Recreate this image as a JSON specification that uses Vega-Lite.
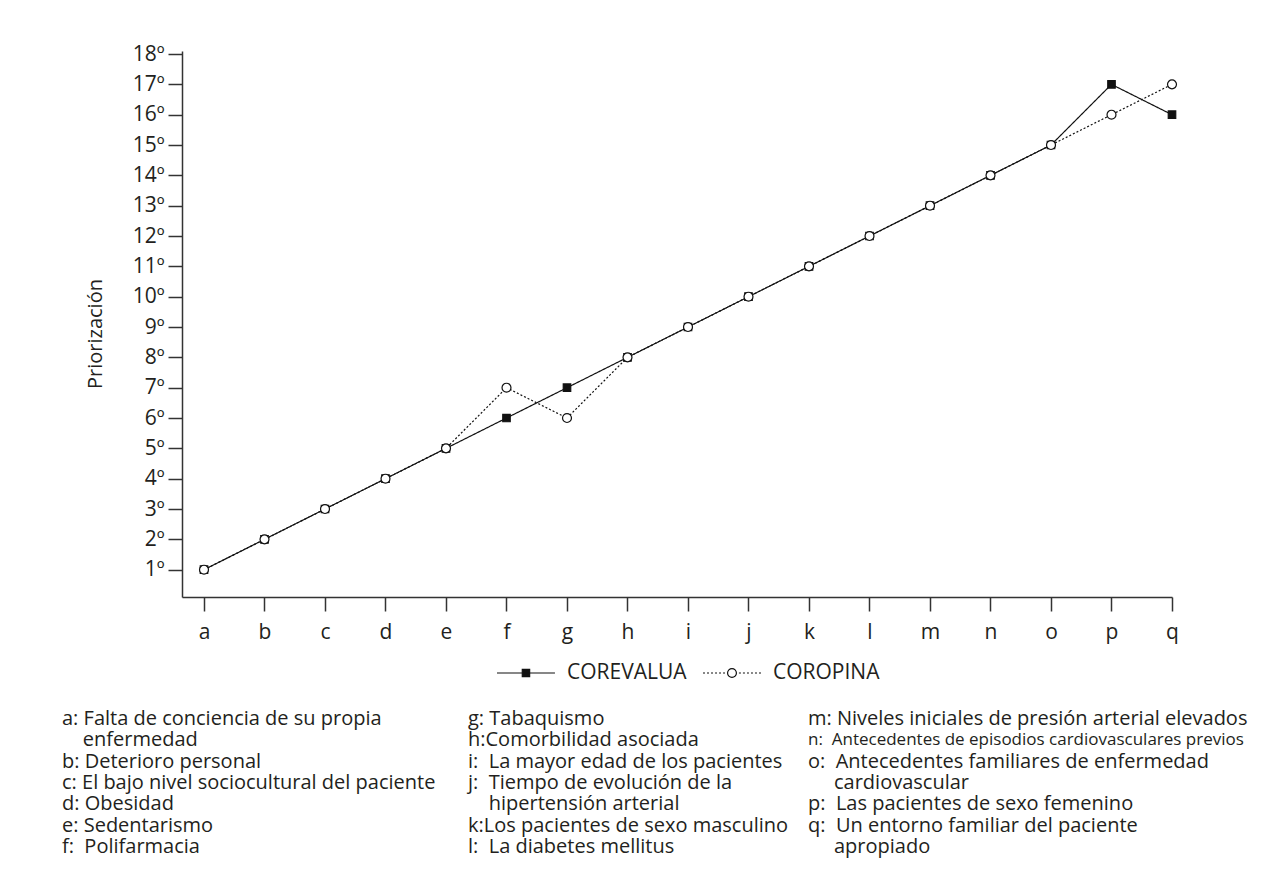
{
  "$schema": "https://vega.github.io/schema/vega-lite/v6.json",
  "padding": {"left": 62, "top": 43, "right": 0, "bottom": 0},
  "background": "white",
  "config": {
    "font": "Open Sans",
    "view": {"stroke": null},
    "axis": {"labelFont": "Open Sans", "titleFont": "Open Sans", "labelColor": "#231f20", "titleColor": "#231f20", "domainColor": "#333333", "tickColor": "#333333", "grid": false, "domainWidth": 1.5, "tickWidth": 1.5},
    "text": {"font": "Open Sans", "color": "#231f20"}
  },
  "resolve": {"scale": {"shape": "independent", "fill": "independent", "size": "independent", "strokeDash": "independent", "x": "independent", "y": "independent"}},
  "datasets": {
    "ranks": [
      {"item": "a", "series": "COREVALUA", "rank": 1},
      {"item": "b", "series": "COREVALUA", "rank": 2},
      {"item": "c", "series": "COREVALUA", "rank": 3},
      {"item": "d", "series": "COREVALUA", "rank": 4},
      {"item": "e", "series": "COREVALUA", "rank": 5},
      {"item": "f", "series": "COREVALUA", "rank": 6},
      {"item": "g", "series": "COREVALUA", "rank": 7},
      {"item": "h", "series": "COREVALUA", "rank": 8},
      {"item": "i", "series": "COREVALUA", "rank": 9},
      {"item": "j", "series": "COREVALUA", "rank": 10},
      {"item": "k", "series": "COREVALUA", "rank": 11},
      {"item": "l", "series": "COREVALUA", "rank": 12},
      {"item": "m", "series": "COREVALUA", "rank": 13},
      {"item": "n", "series": "COREVALUA", "rank": 14},
      {"item": "o", "series": "COREVALUA", "rank": 15},
      {"item": "p", "series": "COREVALUA", "rank": 17},
      {"item": "q", "series": "COREVALUA", "rank": 16},
      {"item": "a", "series": "COROPINA", "rank": 1},
      {"item": "b", "series": "COROPINA", "rank": 2},
      {"item": "c", "series": "COROPINA", "rank": 3},
      {"item": "d", "series": "COROPINA", "rank": 4},
      {"item": "e", "series": "COROPINA", "rank": 5},
      {"item": "f", "series": "COROPINA", "rank": 7},
      {"item": "g", "series": "COROPINA", "rank": 6},
      {"item": "h", "series": "COROPINA", "rank": 8},
      {"item": "i", "series": "COROPINA", "rank": 9},
      {"item": "j", "series": "COROPINA", "rank": 10},
      {"item": "k", "series": "COROPINA", "rank": 11},
      {"item": "l", "series": "COROPINA", "rank": 12},
      {"item": "m", "series": "COROPINA", "rank": 13},
      {"item": "n", "series": "COROPINA", "rank": 14},
      {"item": "o", "series": "COROPINA", "rank": 15},
      {"item": "p", "series": "COROPINA", "rank": 16},
      {"item": "q", "series": "COROPINA", "rank": 17}
    ],
    "legend": [
      {"series": "COREVALUA"},
      {"series": "COROPINA"}
    ],
    "notes": [
      {"col": 1, "line": 0, "text": "a:\u00a0Falta de conciencia de su propia"},
      {"col": 1, "line": 1, "text": "\u200b\u00a0\u00a0\u00a0\u00a0enfermedad"},
      {"col": 1, "line": 2, "text": "b:\u00a0Deterioro personal"},
      {"col": 1, "line": 3, "text": "c:\u00a0El bajo nivel sociocultural del paciente"},
      {"col": 1, "line": 4, "text": "d:\u00a0Obesidad"},
      {"col": 1, "line": 5, "text": "e:\u00a0Sedentarismo"},
      {"col": 1, "line": 6, "text": "f:\u00a0\u00a0Polifarmacia"},
      {"col": 2, "line": 0, "text": "g:\u00a0Tabaquismo"},
      {"col": 2, "line": 1, "text": "h:Comorbilidad asociada"},
      {"col": 2, "line": 2, "text": "i:\u00a0\u00a0La mayor edad de los pacientes"},
      {"col": 2, "line": 3, "text": "j:\u00a0\u00a0Tiempo de evolución de la"},
      {"col": 2, "line": 4, "text": "\u200b\u00a0\u00a0\u00a0\u00a0hipertensión arterial"},
      {"col": 2, "line": 5, "text": "k:Los pacientes de sexo masculino"},
      {"col": 2, "line": 6, "text": "l:\u00a0\u00a0La diabetes mellitus"},
      {"col": 3, "line": 0, "text": "m:\u00a0Niveles iniciales de presión arterial elevados"},
      {"col": 3, "line": 1, "text": "n:\u00a0\u00a0Antecedentes de episodios cardiovasculares previos"},
      {"col": 3, "line": 2, "text": "o:\u00a0\u00a0Antecedentes familiares de enfermedad"},
      {"col": 3, "line": 3, "text": "\u200b\u00a0\u00a0\u00a0\u00a0\u00a0cardiovascular"},
      {"col": 3, "line": 4, "text": "p:\u00a0\u00a0Las pacientes de sexo femenino"},
      {"col": 3, "line": 5, "text": "q:\u00a0\u00a0Un entorno familiar del paciente"},
      {"col": 3, "line": 6, "text": "\u200b\u00a0\u00a0\u00a0\u00a0\u00a0apropiado"}
    ]
  },
  "concat": [
    {
      "hconcat": [
        {
          "width": 68,
          "height": 566,
          "data": {"values": [{"label": "Priorización"}]},
          "mark": {"type": "text", "angle": 270, "align": "center", "baseline": "middle", "fontSize": 20},
          "encoding": {"text": {"field": "label"}}
        },
        {
          "width": 990,
          "height": 546,
          "data": {"name": "ranks"},
          "encoding": {
            "x": {"field": "item", "type": "ordinal", "scale": {"type": "point", "padding": 0.1818, "align": 1}, "axis": {"title": null, "labelAngle": 0, "tickSize": 14, "labelPadding": 10, "labelFontSize": 21}},
            "y": {"field": "rank", "type": "quantitative", "scale": {"domain": [0.1, 18.1], "nice": false, "zero": false}, "axis": {"title": null, "values": [1, 2, 3, 4, 5, 6, 7, 8, 9, 10, 11, 12, 13, 14, 15, 16, 17, 18], "labelExpr": "datum.value + 'º'", "tickSize": 14, "labelPadding": 4, "labelFontSize": 21}}
          },
          "layer": [
            {
              "mark": {"type": "line", "color": "#111111", "strokeWidth": 1.2},
              "encoding": {
                "strokeDash": {"field": "series", "type": "nominal", "scale": {"domain": ["COREVALUA", "COROPINA"], "range": [[1, 0], [2, 2]]}, "legend": null}
              }
            },
            {
              "mark": {"type": "point", "filled": true, "stroke": "#111111", "strokeWidth": 1.2, "opacity": 1},
              "encoding": {
                "shape": {"field": "series", "type": "nominal", "scale": {"domain": ["COREVALUA", "COROPINA"], "range": ["square", "circle"]}, "legend": null},
                "fill": {"field": "series", "type": "nominal", "scale": {"domain": ["COREVALUA", "COROPINA"], "range": ["#111111", "#ffffff"]}, "legend": null},
                "size": {"field": "series", "type": "nominal", "scale": {"domain": ["COREVALUA", "COROPINA"], "range": [56, 80]}, "legend": null}
              }
            }
          ]
        }
      ],
      "spacing": 2
    },
    {
      "width": 773,
      "height": 20,
      "data": {"name": "legend"},
      "encoding": {
        "x": {"field": "series", "type": "nominal", "sort": null, "scale": {"type": "band", "domain": ["COREVALUA", "COROPINA"], "paddingInner": 0, "paddingOuter": 0.876, "align": 1}, "axis": null}
      },
      "layer": [
        {
          "mark": {"type": "point", "filled": true, "stroke": "#111111", "strokeWidth": 1.2, "opacity": 1, "size": 3481},
          "encoding": {
            "shape": {"field": "series", "type": "nominal", "scale": {"domain": ["COREVALUA", "COROPINA"], "range": ["M-0.983,0H0.983M-0.125,-0.125H0.125V0.125H-0.125Z", "M-0.983,0H-0.915M-0.847,0H-0.779M-0.711,0H-0.643M-0.575,0H-0.507M-0.439,0H-0.371M-0.303,0H-0.235M0.15,0A0.15,0.15 0 1,1 -0.15,0A0.15,0.15 0 1,1 0.15,0M0.235,0H0.303M0.371,0H0.439M0.507,0H0.575M0.643,0H0.711M0.779,0H0.847M0.915,0H0.983"]}, "legend": null},
            "fill": {"field": "series", "type": "nominal", "scale": {"domain": ["COREVALUA", "COROPINA"], "range": ["#111111", "#ffffff"]}, "legend": null}
          }
        },
        {
          "mark": {"type": "text", "align": "left", "baseline": "middle", "fontSize": 21, "dx": 41},
          "encoding": {"text": {"field": "series"}}
        }
      ]
    },
    {
      "hconcat": [
        {
          "width": 406, "height": 160,
          "data": {"name": "notes"},
          "transform": [{"filter": "datum.col == 1"}],
          "mark": {"type": "text", "align": "left", "baseline": "middle", "fontSize": 20},
          "encoding": {
            "x": {"field": "col", "type": "nominal", "scale": {"type": "point", "padding": 0, "align": 0}, "axis": null},
            "y": {"field": "line", "type": "ordinal", "scale": {"type": "point", "padding": 0.75}, "axis": null},
            "text": {"field": "text"}
          }
        },
        {
          "width": 340, "height": 160,
          "data": {"name": "notes"},
          "transform": [{"filter": "datum.col == 2"}],
          "mark": {"type": "text", "align": "left", "baseline": "middle", "fontSize": 20},
          "encoding": {
            "x": {"field": "col", "type": "nominal", "scale": {"type": "point", "padding": 0, "align": 0}, "axis": null},
            "y": {"field": "line", "type": "ordinal", "scale": {"type": "point", "padding": 0.75}, "axis": null},
            "text": {"field": "text"}
          }
        },
        {
          "width": 440, "height": 160,
          "data": {"name": "notes"},
          "transform": [{"filter": "datum.col == 3"}],
          "encoding": {
            "x": {"field": "col", "type": "nominal", "scale": {"type": "point", "padding": 0, "align": 0}, "axis": null},
            "y": {"field": "line", "type": "ordinal", "scale": {"type": "point", "padding": 0.75}, "axis": null},
            "text": {"field": "text"}
          },
          "layer": [
            {"transform": [{"filter": "datum.line != 1"}], "mark": {"type": "text", "align": "left", "baseline": "middle", "fontSize": 20}},
            {"transform": [{"filter": "datum.line == 1"}], "mark": {"type": "text", "align": "left", "baseline": "middle", "fontSize": 17}}
          ]
        }
      ],
      "spacing": 0,
      "bounds": "flush"
    }
  ],
  "columns": 1,
  "spacing": 20
}
